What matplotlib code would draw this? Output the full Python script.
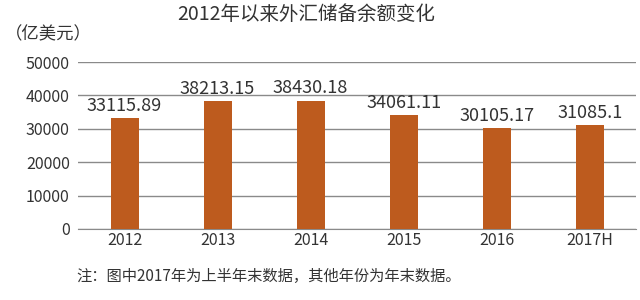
import matplotlib.pyplot as plt

plt.rcParams['font.family'] = ['Noto Sans CJK SC', 'DejaVu Sans']

years = ['2012', '2013', '2014', '2015', '2016', '2017H']
reserves = [33115.89, 38213.15, 38430.18, 34061.11, 30105.17, 31085.1]
labels = ['33115.89', '38213.15', '38430.18', '34061.11', '30105.17', '31085.1']
yticks = [0, 10000, 20000, 30000, 40000, 50000]

fig = plt.figure(figsize=(6.4, 3.0), dpi=100)
ax = fig.add_axes([0.122, 0.237, 0.872, 0.556])

x = range(len(years))
ax.bar(x, reserves, width=0.3, color='#BD5B1E', zorder=3)
for i, v in enumerate(reserves):
    ax.text(i, v + 1000, labels[i], ha='center', va='bottom', fontsize=13,
            color='#333333')

ax.set_xlim(-0.5, len(years) - 0.5)
ax.set_ylim(0, 50000)
ax.set_yticks(yticks)
ax.set_yticklabels([str(t) for t in yticks], fontsize=11.5, color='#333333')
ax.set_xticks(list(x))
ax.set_xticklabels(years, fontsize=11.5, color='#333333')
ax.grid(axis='y', color='#8a8a8a', linewidth=1, zorder=0)
ax.tick_params(axis='y', length=0, pad=6)
ax.tick_params(axis='x', length=0, pad=2)
for s in ['top', 'right', 'left']:
    ax.spines[s].set_visible(False)
ax.spines['bottom'].set_color('#8a8a8a')

fig.text(0.478, 0.952, '2012年以来外汇储备余额变化', ha='center', va='center',
         fontsize=14, color='#333333')
fig.text(0.008, 0.885, '（亿美元）', ha='left', va='center', fontsize=12.5,
         color='#333333')
fig.text(0.12, 0.077, '注：图中2017年为上半年末数据，其他年份为年末数据。', ha='left',
         va='center', fontsize=11, color='#333333')

fig.savefig('out.png', dpi=100)
